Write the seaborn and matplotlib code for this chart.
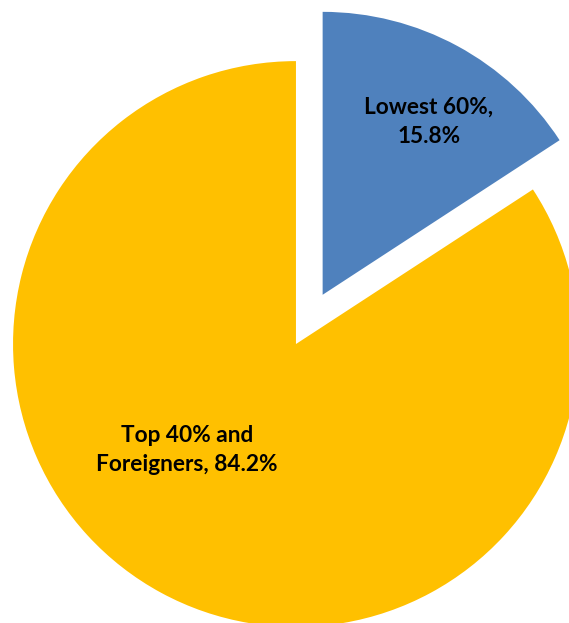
import matplotlib
matplotlib.use("Agg")
import matplotlib.pyplot as plt
import seaborn as sns
import numpy as np

# Share of the total, by group
groups = ["Lowest 60%", "Top 40% and\nForeigners"]
shares = [15.8, 84.2]
colors = ["#4F81BD", "#FFC000"]

sns.set_theme(style="white")
plt.rcParams["font.family"] = ["Lato", "DejaVu Sans"]

fig = plt.figure(figsize=(5.69, 6.23), dpi=100)
ax = fig.add_axes([0, 0, 1, 1])

wedges, _ = ax.pie(
    shares,
    colors=colors,
    startangle=90,
    counterclock=False,
    explode=[0.198, 0],
    radius=1.0,
    wedgeprops=dict(linewidth=0),
)

# Label text for each slice
labels = [
    f"{groups[0]},\n{shares[0]}%",
    f"Top 40% and\nForeigners, {shares[1]}%",
]
label_pos = [(0.47, 0.784), (-0.385, -0.375)]
for txt, (x, y) in zip(labels, label_pos):
    ax.text(x, y, txt, ha="center", va="center", fontsize=16.3,
            fontweight="bold", color="black", linespacing=1.5)

ax.set_xlim(-1.046, 0.965)
ax.set_ylim(-0.986, 1.216)
ax.set_aspect("equal")
ax.axis("off")

fig.savefig("out.png", dpi=100, facecolor="white")
